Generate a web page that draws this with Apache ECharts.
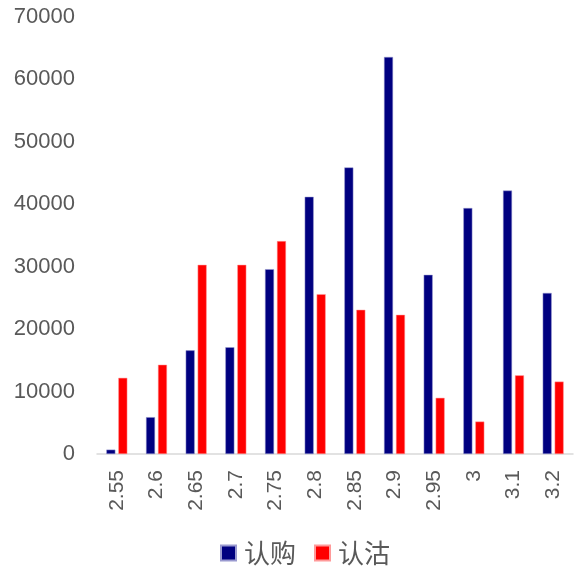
<!DOCTYPE html>
<html><head><meta charset="utf-8">
<script src="https://cdn.jsdelivr.net/npm/echarts@6/dist/echarts.min.js"></script>
<style>html,body{margin:0;padding:0;background:#fff}#c{width:582px;height:567px}</style>
</head><body><div id="c"></div>
<script>
const categories = ['2.55','2.6','2.65','2.7','2.75','2.8','2.85','2.9','2.95','3','3.1','3.2'];
const callValues = [700, 5900, 16600, 17100, 29600, 41200, 45900, 63600, 28700, 39400, 42200, 25800];
const putValues = [12200, 14300, 30300, 30300, 34100, 25600, 23100, 22300, 9000, 5200, 12600, 11600];
const seriesNames = ['认购', '认沽'];

const chart = echarts.init(document.getElementById('c'));
chart.setOption({
  animation: false,
  textStyle: { fontFamily: 'Liberation Sans, "Noto Sans CJK SC", sans-serif' },
  grid: { left: 97, right: 9, top: 17, bottom: 113, containLabel: false },
  legend: {
    data: seriesNames,
    top: 535,
    left: 215,
    itemWidth: 15,
    itemHeight: 15,
    itemGap: 18,
    icon: 'rect',
    textStyle: { fontSize: 26, color: '#595959', fontFamily: '"Noto Sans CJK SC", sans-serif', padding: [0,0,0,3] }
  },
  xAxis: {
    type: 'category',
    data: categories,
    axisLine: { lineStyle: { color: '#d9d9d9', width: 1.5 } },
    axisTick: { show: false },
    axisLabel: { rotate: 90, margin: 16, fontSize: 21, color: '#595959' }
  },
  yAxis: {
    type: 'value',
    min: 0, max: 70000, interval: 10000,
    axisLine: { show: false },
    axisTick: { show: false },
    splitLine: { show: false },
    axisLabel: { margin: 22, fontSize: 22, color: '#595959', formatter: v => String(v) }
  },
  series: [
    { name: seriesNames[0], type: 'bar', data: callValues, barWidth: 9, barGap: '33%',
      itemStyle: { color: '#000080', borderColor: '#9a9ad0', borderWidth: 0.5 } },
    { name: seriesNames[1], type: 'bar', data: putValues, barWidth: 9,
      itemStyle: { color: '#ff0000', borderColor: '#ff9a9a', borderWidth: 0.5 } }
  ]
});
</script></body></html>
